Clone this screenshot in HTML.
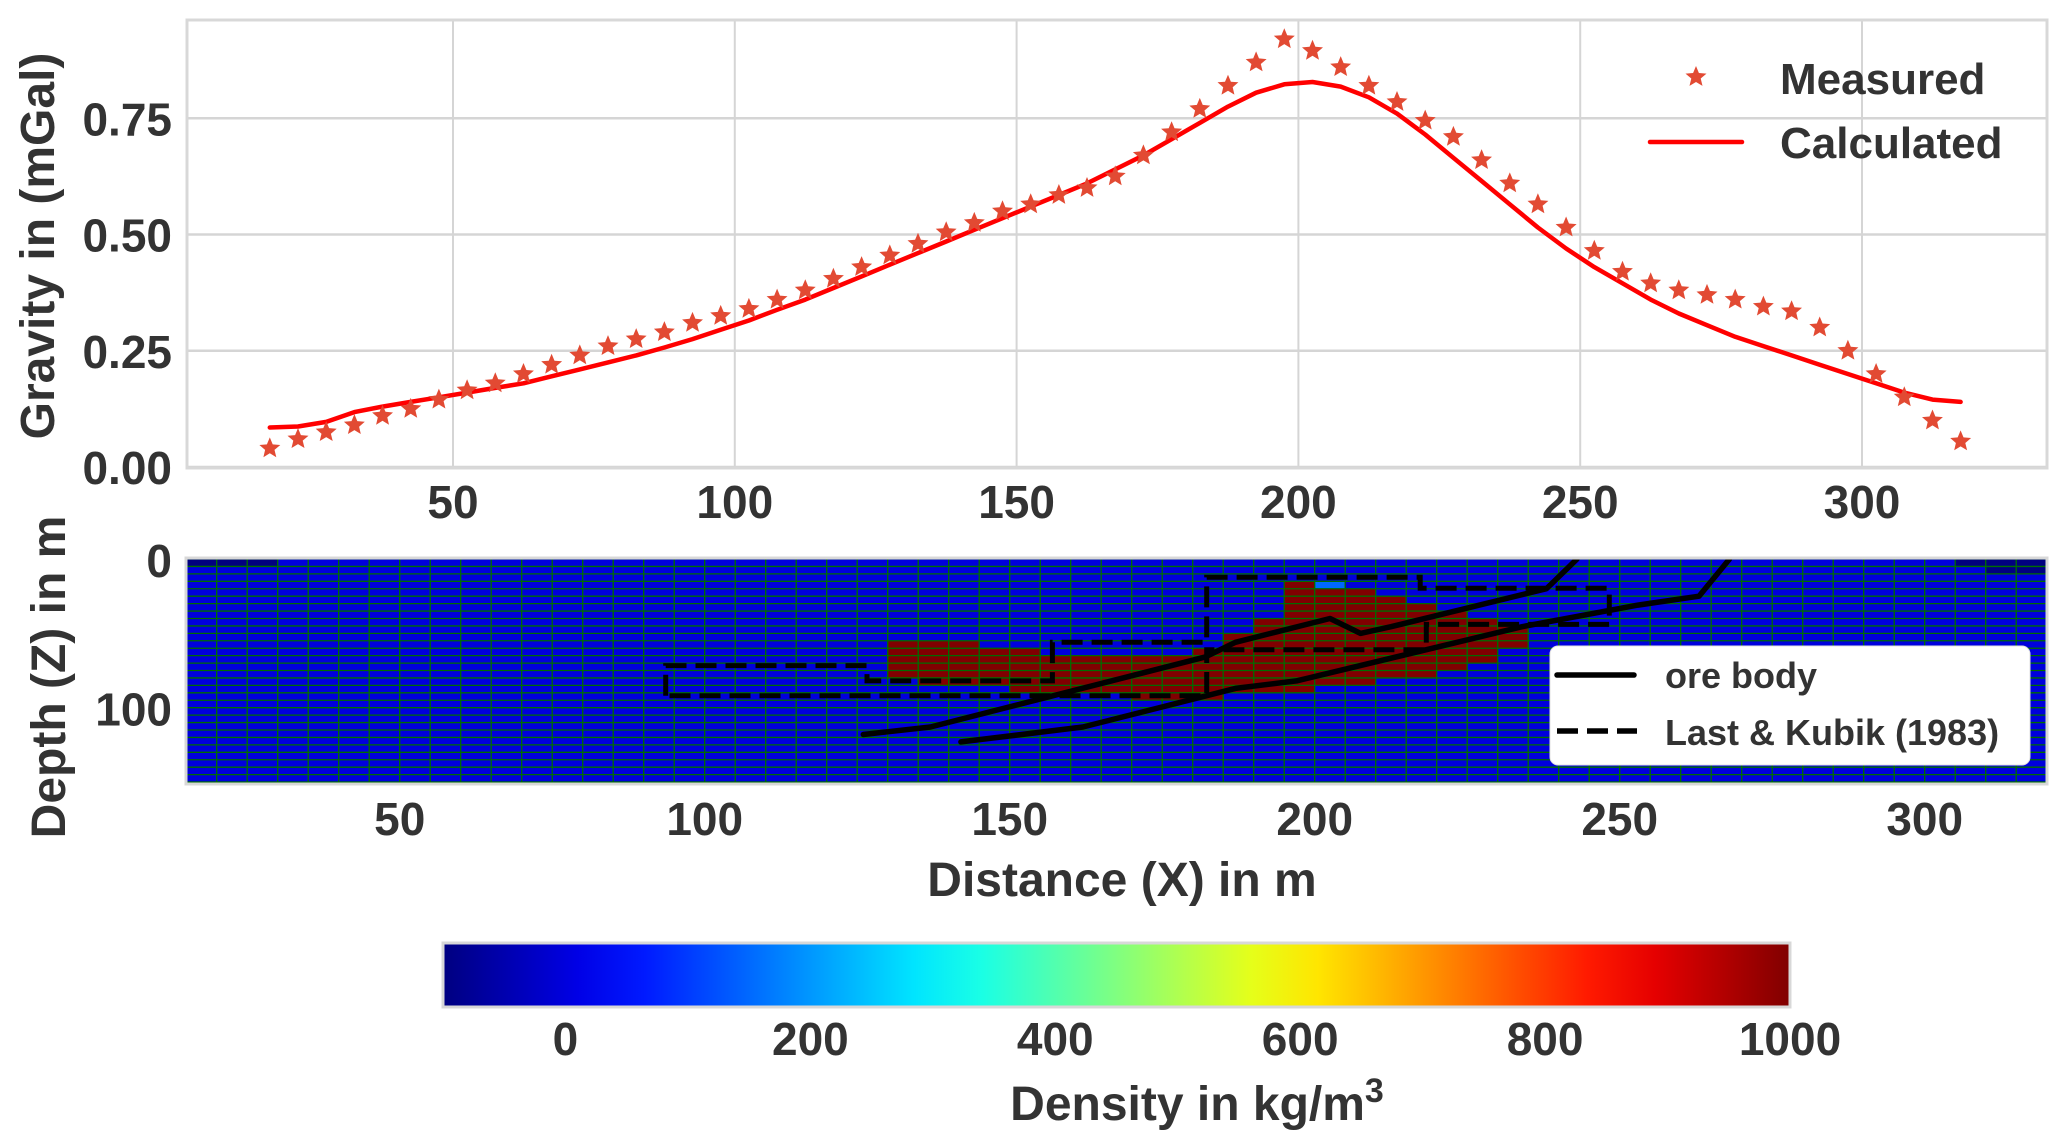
<!DOCTYPE html>
<html><head><meta charset="utf-8"><style>
html,body{margin:0;padding:0;background:#fff;}
svg{display:block;font-family:"Liberation Sans",sans-serif;font-weight:bold;}
</style></head><body>
<svg id="fig" xmlns="http://www.w3.org/2000/svg" width="2067" height="1148" viewBox="0 0 2067 1148">
<defs>
<linearGradient id="jet" x1="0" x2="1" y1="0" y2="0"></linearGradient>
<clipPath id="clipTop"><rect x="187" y="20" width="1860" height="448"/></clipPath>
<clipPath id="clipBot"><rect x="186" y="559" width="1861" height="224"/></clipPath>
</defs>
<g id="topPanel"></g>
<g id="bot"></g>
<g id="cbar"></g>
</svg>
<script>
// ---------- data ----------
const measX = [17.5,22.5,27.5,32.5,37.5,42.5,47.5,52.5,57.5,62.5,67.5,72.5,77.5,82.5,87.5,92.5,97.5,102.5,107.5,112.5,117.5,122.5,127.5,132.5,137.5,142.5,147.5,152.5,157.5,162.5,167.5,172.5,177.5,182.5,187.5,192.5,197.5,202.5,207.5,212.5,217.5,222.5,227.5,232.5,237.5,242.5,247.5,252.5,257.5,262.5,267.5,272.5,277.5,282.5,287.5,292.5,297.5,302.5,307.5,312.5,317.5];
const measured = [0.04,0.06,0.075,0.09,0.11,0.125,0.145,0.165,0.18,0.20,0.22,0.24,0.26,0.275,0.29,0.31,0.325,0.34,0.36,0.38,0.405,0.43,0.455,0.48,0.505,0.525,0.55,0.565,0.585,0.60,0.625,0.67,0.72,0.77,0.82,0.87,0.92,0.895,0.86,0.82,0.785,0.745,0.71,0.66,0.61,0.565,0.515,0.465,0.42,0.395,0.38,0.37,0.36,0.345,0.335,0.30,0.25,0.20,0.15,0.10,0.055];
const calculated = [0.085,0.087,0.097,0.118,0.13,0.14,0.15,0.16,0.17,0.18,0.195,0.21,0.225,0.24,0.257,0.275,0.295,0.315,0.338,0.36,0.385,0.41,0.435,0.46,0.485,0.51,0.535,0.56,0.585,0.61,0.64,0.67,0.705,0.74,0.775,0.805,0.823,0.828,0.818,0.795,0.76,0.715,0.665,0.615,0.565,0.515,0.47,0.43,0.395,0.36,0.33,0.305,0.28,0.26,0.24,0.22,0.2,0.18,0.16,0.145,0.14];
const topXTicks = [50,100,150,200,250,300];
const topYTicks = [0,0.25,0.5,0.75];
const topYLabels = ["0.00","0.25","0.50","0.75"];
const oreColX   = [130,135,140,145,150,155,160,165,170,175,180,185,190,195,200,205,210,215,220,225,230];
const oreColTop = [55,55,55,60,60,65,65,65,65,65,60,50,40,15,20,20,25,30,35,40,45];
const oreColBot = [80,85,85,85,90,90,90,90,95,95,95,90,90,90,85,85,80,80,75,70,60];
const cellX = [15,20,25,305,310,315,310,315,200];
const cellZ = [0,0,0,0,0,0,5,5,15];
const cellV = [-100,-100,-100,-100,-100,-100,-100,-100,150];
const bgDensity = 0;
const oreDensity = 1000;
const upperOreX = [126,137,182,187,202.5,207.5,212.5,238,243];
const upperOreZ = [118,113,66,56,40,50,45.5,20,0];
const lowerOreX = [142,162,187,197,234,253,263,268];
const lowerOreZ = [123,113,87,82,45.5,31,25,0];
const lkX = [93.6,93.6,126.6,126.6,157,157,182.3,182.3,217.3,217.3,248.3,248.3,218.3,218.3,182.3,182.3,93.6];
const lkZ = [92,71.7,71.7,82,82,56,56,12.3,12.3,19.7,19.7,44,44,61,61,92,92];
const botXTicks = [50,100,150,200,250,300];
const botZTicks = [0,100];
const cbTicks = [0,200,400,600,800,1000];
const vmin = -100, vmax = 1000;

// ---------- helpers ----------
const NS = "http://www.w3.org/2000/svg";
function el(parent, tag, attrs, text){
  const e = document.createElementNS(NS, tag);
  for (const k in attrs) e.setAttribute(k, attrs[k]);
  if (text !== undefined) e.textContent = text;
  parent.appendChild(e); return e;
}
function jet(t){
  t = Math.max(0, Math.min(1, t));
  const c = v => Math.round(255*Math.max(0, Math.min(1, v)));
  return `rgb(${c(1.5-Math.abs(4*t-3))},${c(1.5-Math.abs(4*t-2))},${c(1.5-Math.abs(4*t-1))})`;
}
const cmap = v => jet((v - vmin)/(vmax - vmin));
const tx = x => 171.2 + x*5.636;
const ty = v => 467 - v*465;
const bx = x => 94.7 + x*6.1;
const bz = z => 559 + z*1.487;
const TXT = "#333333";

// ---------- top panel ----------
const topG = document.getElementById('topPanel');
el(topG,'rect',{x:187,y:20,width:1860,height:448,fill:'#fff'});
topXTicks.forEach(v=>{
  const g = el(topG,'line',{x1:tx(v),x2:tx(v),y1:20,y2:468,stroke:'#d5d5d5','stroke-width':2});
  
  
  const t = el(topG,'text',{x:tx(v),y:518,'text-anchor':'middle','font-size':46,fill:TXT},String(v));
  
  
});
topYTicks.forEach((v,i)=>{
  const g = el(topG,'line',{x1:187,x2:2047,y1:ty(v),y2:ty(v),stroke:'#d5d5d5','stroke-width':2.5});
  
  
  const t = el(topG,'text',{x:172,y:ty(v)+17,'text-anchor':'end','font-size':46,fill:TXT},topYLabels[i]);
  
  
});
el(topG,'rect',{x:187,y:20,width:1860,height:448,fill:'none',stroke:'#d8d8d8','stroke-width':3});
const gd = el(topG,'g',{'clip-path':'url(#clipTop)'});
const calcPts = measX.map((x,i)=>tx(x).toFixed(1)+','+ty(calculated[i]).toFixed(1)).join(' ');
const cl = el(gd,'polyline',{points:calcPts,fill:'none',stroke:'#ff0000','stroke-width':4.5,'stroke-linejoin':'round','stroke-linecap':'round'});


function starPath(cx0,cy0,R){
  const r = R*0.45; let p='';
  for(let k=0;k<10;k++){const a=-Math.PI/2+k*Math.PI/5;const rr=k%2?r:R;p+=(k?'L':'M')+(cx0+rr*Math.cos(a)).toFixed(1)+','+(cy0+rr*Math.sin(a)).toFixed(1);}
  return p+'Z';
}
measX.forEach((x,i)=>{
  const s = el(topG,'path',{d:starPath(tx(x),ty(measured[i]),11),fill:'#e24a33'});
  
  
});
const ylab = el(topG,'text',{x:0,y:0,transform:'translate(54,246) rotate(-90)','text-anchor':'middle','font-size':48,fill:TXT},'Gravity in (mGal)');


const lg1 = el(topG,'g',{});


el(lg1,'path',{d:starPath(1696,77,11),fill:'#e24a33'});
el(lg1,'text',{x:1780,y:94,'font-size':44,fill:TXT},'Measured');
el(lg1,'line',{x1:1650,x2:1742,y1:142,y2:142,stroke:'#ff0000','stroke-width':4.5,'stroke-linecap':'round'});
el(lg1,'text',{x:1780,y:158,'font-size':44,fill:TXT},'Calculated');

// ---------- bottom panel ----------
const bot = document.getElementById('bot');
const cells = el(bot,'g',{'clip-path':'url(#clipBot)'});
el(cells,'rect',{x:bx(15),y:bz(0),width:bx(320)-bx(15),height:bz(150)-bz(0),fill:cmap(bgDensity)});
oreColX.forEach((x,i)=>{
  const r = el(cells,'rect',{x:bx(x),y:bz(oreColTop[i]),width:bx(x+5)-bx(x),height:bz(oreColBot[i])-bz(oreColTop[i]),fill:cmap(oreDensity)});
  
  
});
cellX.forEach((x,i)=>{
  const r = el(cells,'rect',{x:bx(x),y:bz(cellZ[i]),width:bx(x+5)-bx(x),height:bz(cellZ[i]+5)-bz(cellZ[i]),fill:cmap(cellV[i])});
  
  
});
for(let x=15;x<=320;x+=5) el(cells,'line',{x1:bx(x),x2:bx(x),y1:bz(0),y2:bz(150),stroke:'#006d00','stroke-width':1.3});
for(let z=0;z<=150;z+=5) el(cells,'line',{x1:bx(15),x2:bx(320),y1:bz(z),y2:bz(z),stroke:'#006d00','stroke-width':1.3});
const mk = (X,Z)=>X.map((x,i)=>bx(x).toFixed(1)+','+bz(Z[i]).toFixed(1)).join(' ');
const lk = el(cells,'polyline',{points:mk(lkX,lkZ),fill:'none',stroke:'#000','stroke-width':5,'stroke-dasharray':'21 9'});


const up = el(cells,'polyline',{points:mk(upperOreX,upperOreZ),fill:'none',stroke:'#000','stroke-width':5.5,'stroke-linejoin':'round','stroke-linecap':'round'});


const lo = el(cells,'polyline',{points:mk(lowerOreX,lowerOreZ),fill:'none',stroke:'#000','stroke-width':5.5,'stroke-linejoin':'round','stroke-linecap':'round'});


el(bot,'rect',{x:186,y:558,width:1861,height:226,fill:'none',stroke:'#d8d8d8','stroke-width':3});
botXTicks.forEach(v=>{
  const t = el(bot,'text',{x:bx(v),y:835,'text-anchor':'middle','font-size':46,fill:TXT},String(v));
  
  
});
botZTicks.forEach(v=>{
  const t = el(bot,'text',{x:172,y:bz(v)+18,'text-anchor':'end','font-size':46,fill:TXT},String(v));
  
  
});
const xl = el(bot,'text',{x:1122,y:896,'text-anchor':'middle','font-size':48,fill:TXT},'Distance (X) in m');


const zl = el(bot,'text',{x:0,y:0,transform:'translate(65,677) rotate(-90)','text-anchor':'middle','font-size':48,fill:TXT},'Depth (Z) in m');


const lg2 = el(bot,'g',{});


el(lg2,'rect',{x:1550,y:646,width:480,height:119,rx:8,fill:'#fff',stroke:'#e0e0e0','stroke-width':1});
el(lg2,'line',{x1:1557,x2:1634,y1:675,y2:675,stroke:'#000','stroke-width':5.5,'stroke-linecap':'round'});
el(lg2,'text',{x:1665,y:688,'font-size':36,fill:TXT},'ore body');
el(lg2,'line',{x1:1557,x2:1637,y1:731,y2:731,stroke:'#000','stroke-width':5.5,'stroke-dasharray':'21 9'});
el(lg2,'text',{x:1665,y:745,'font-size':36,fill:TXT},'Last & Kubik (1983)');

// ---------- colorbar ----------
const grad = document.getElementById('jet');
for(let k=0;k<=20;k++){el(grad,'stop',{offset:(k/20),'stop-color':jet(k/20)});}
const cb = document.getElementById('cbar');
const cbx = v => 443 + (v - vmin)/(vmax - vmin)*(1790-443);
el(cb,'rect',{x:443,y:943,width:1347,height:64,fill:'url(#jet)',stroke:'#d8d8d8','stroke-width':3});
cbTicks.forEach(v=>{
  const t = el(cb,'text',{x:cbx(v),y:1055,'text-anchor':'middle','font-size':46,fill:TXT},String(v));
  
  
});
const cbl = el(cb,'text',{x:1197,y:1120,'text-anchor':'middle','font-size':48,fill:TXT},'Density in kg/m');


el(cbl,'tspan',{dy:-18,'font-size':34},'3');
</script>
</body></html>
